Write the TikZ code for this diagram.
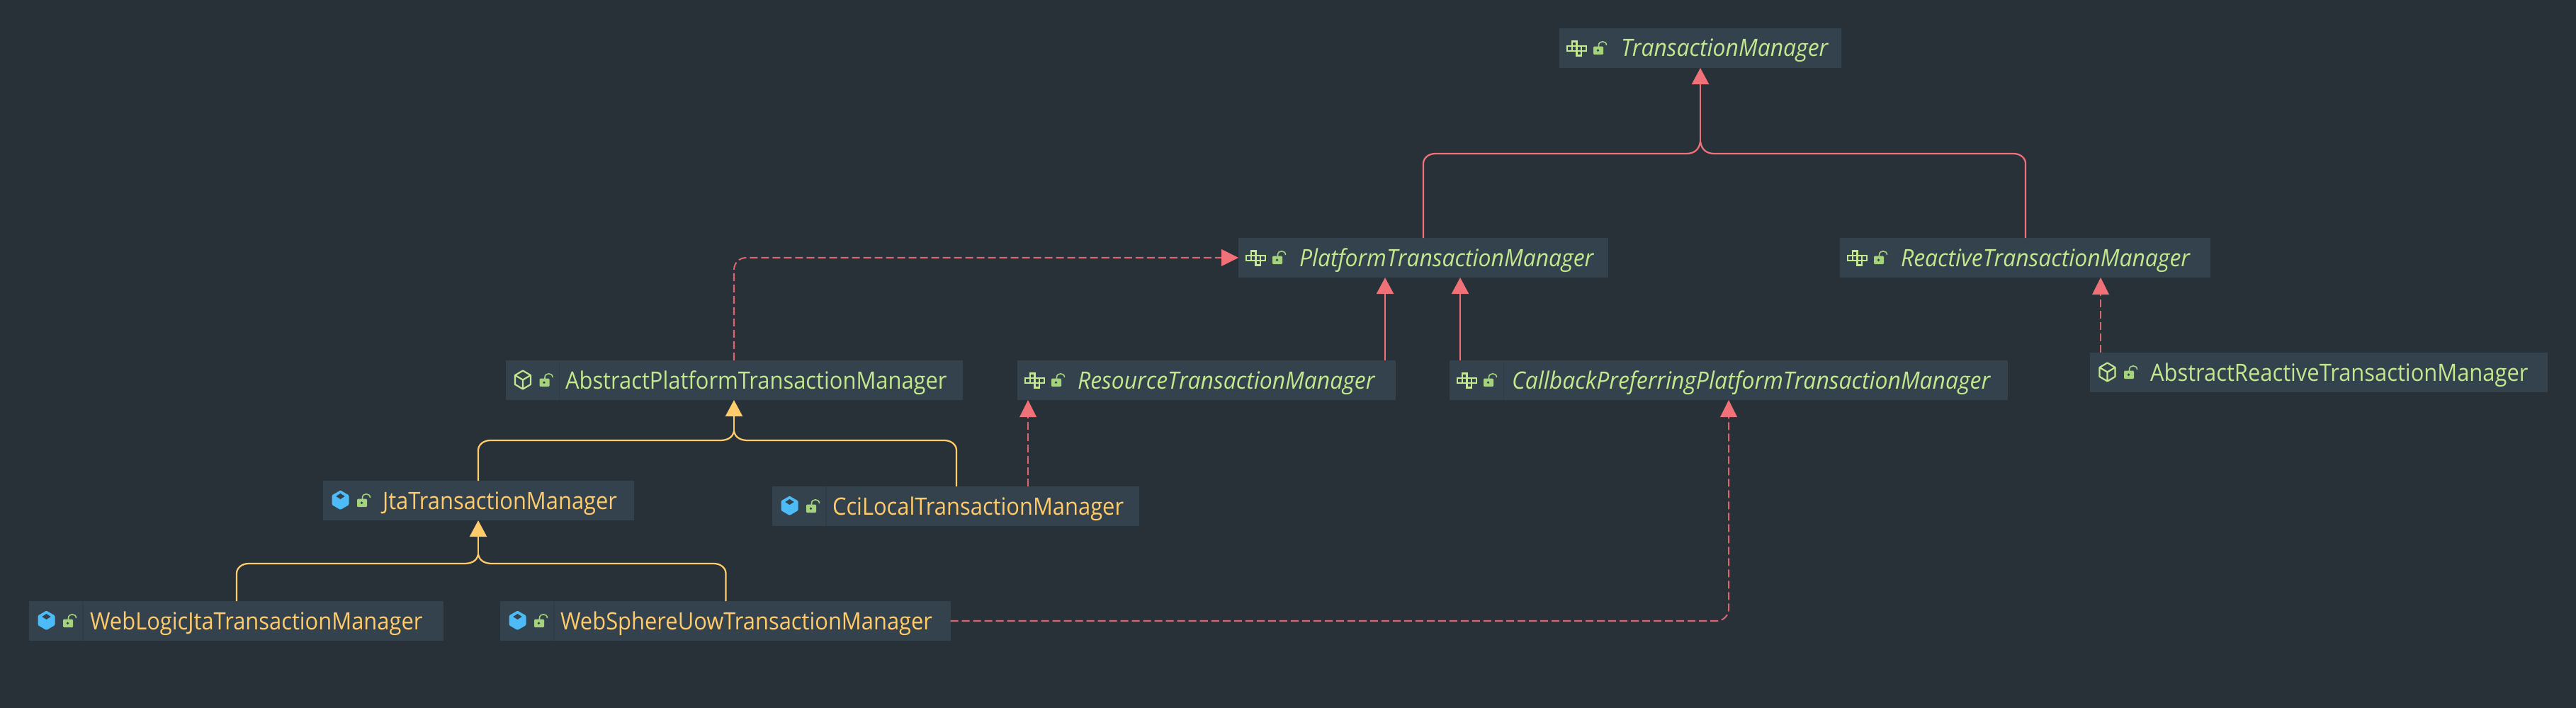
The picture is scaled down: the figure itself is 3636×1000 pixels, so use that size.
\documentclass[tikz,border=0pt]{standalone}
\usepackage{fontspec}
\setmainfont[FakeStretch=0.915,ItalicFeatures={FakeStretch=0.945}]{Open Sans}
\usetikzlibrary{arrows.meta}
\definecolor{bgc}{HTML}{283138}
\definecolor{boxc}{HTML}{33424C}
\definecolor{divc}{HTML}{2F3C45}
\definecolor{redc}{HTML}{F07178}
\definecolor{dashc}{HTML}{DC6670}
\definecolor{yelc}{HTML}{FFCB6B}
\definecolor{grnc}{HTML}{C3E88D}
\definecolor{lockc}{HTML}{A5D37C}
\definecolor{bluec}{HTML}{4DBBF7}
\tikzset{
  umlbox/.style={fill=boxc,draw=none,inner sep=0pt,outer sep=0pt,anchor=north west},
  lbl/.style={inner sep=0pt,outer sep=0pt,anchor=base west,font=\fontsize{9.6pt}{11pt}\selectfont},
  iface/.style={lbl,text=grnc,font=\fontsize{9.6pt}{11pt}\selectfont\itshape},
  absc/.style={lbl,text=grnc},
  conc/.style={lbl,text=yelc},
  tipa/.style={-{Triangle[width=.24cm,length=.23cm]}},
  solidred/.style={draw=redc,line width=.64pt},
  dashred/.style={draw=dashc,line width=.58pt,dash pattern=on .11cm off .05cm},
  solidyel/.style={draw=yelc,line width=.64pt},
  bendy/.style={rounded corners=.17cm},
}
% box: name, left, top, right, text start, label style, text
\newcommand\bx[7]{%
  \pgfmathsetmacro\bw{(#4-#2)*0.01}%
  \node[umlbox,minimum width=\bw cm,minimum height=.56cm] (#1) at (#2,#3) {};
  \pgfmathsetmacro\by{#3+40}%
  \node[#6] (#1-t) at (#5,\by) {#7};
}
\newcommand\dv[2]{\pgfmathsetmacro\dx{#1+76}\pgfmathsetmacro\dy{#2+56}\draw[divc,line width=.3pt] (\dx,#2) -- (\dx,\dy);}
\newcommand\lockicon{%
  \fill[lockc,rounded corners=.012cm] (48,25.7) rectangle (62,37);
  \fill[boxc] (54.5,31.2) circle (1.9);
  \draw[lockc,line width=.45pt] (55.5,26) -- (55.5,24) .. controls (55.5,17) and (66.5,17) .. (66.5,24);
}
\newcommand\ifaceicon[2]{\begin{scope}[shift={(#1,#2)}]
  \foreach \cx/\cy in {17.75/18.5,11/25.2,17.75/25.2,24.5/25.2,31.25/25.2,24.5/31.9}{\draw[grnc,line width=.66pt] (\cx,\cy) rectangle +(6.75,6.7);}
  \lockicon
\end{scope}}
\newcommand\cubeicon[2]{\begin{scope}[shift={(#1,#2)}]
  \fill[bluec,rounded corners=.012cm] (24.5,13.5) -- (36.5,20.5) -- (36.5,34) -- (24.5,41) -- (12.5,34) -- (12.5,20.5) -- cycle;
  \fill[boxc] (24.5,18) -- (30.7,22) -- (24.5,26) -- (18.3,22) -- cycle;
  \lockicon
\end{scope}}
\newcommand\abicon[2]{\begin{scope}[shift={(#1,#2)}]
  \draw[grnc,line width=.62pt,line join=round] (24.5,14.5) -- (35.5,21) -- (35.5,34) -- (24.5,40.5) -- (13.5,34) -- (13.5,21) -- cycle;
  \draw[grnc,line width=.62pt,line join=round] (13.5,21) -- (24.5,27.5) -- (35.5,21) (24.5,27.5) -- (24.5,40.5);
  \lockicon
\end{scope}}
% branch of a merged tree: style, port column, box, x of port, y of bus, x of join, y of join
\newcommand\branch[7]{%
  \pgfmathsetmacro\sg{(#6>#4)?1:-1}%
  \pgfmathsetmacro\xa{#4+\sg*17}\pgfmathsetmacro\ya{#5+14}%
  \pgfmathsetmacro\xb{#4}\pgfmathsetmacro\yb{#5+6}%
  \pgfmathsetmacro\xc{#4+\sg*7.5}%
  \pgfmathsetmacro\xd{#6-\sg*20}%
  \pgfmathsetmacro\xe{#6-\sg*10}\pgfmathsetmacro\xf{#6-\sg*2}\pgfmathsetmacro\yf{#7+(#5-#7)*.75}%
  \draw[#1] (#2 |- #3.north) -- (\xb,\ya) .. controls (\xb,\yb) and (\xc,#5) .. (\xa,#5) -- (\xd,#5) .. controls (\xe,#5) and (\xf,\yf) .. (#6,#7);%
}
\begin{document}
\begin{tikzpicture}[x=.01cm,y=-.01cm]
\useasboundingbox (0,0) rectangle (3636,1000);
\fill[bgc] (0,0) rectangle (3636,1000);
% boxes
\bx{tm}{2201}{40}{2599}{2288}{iface}{TransactionManager}
\bx{pm}{1748}{336}{2270}{1834}{iface}{PlatformTransactionManager}
\bx{rm}{2597}{336}{3120}{2683}{iface}{ReactiveTransactionManager}
\bx{apm}{713.5}{509}{1358.5}{798}{absc}{AbstractPlatformTransactionManager}
\bx{res}{1436}{509}{1970}{1521}{iface}{ResourceTransactionManager}
\bx{cb}{2046}{509}{2834}{2134}{iface}{CallbackPreferringPlatformTransactionManager}
\bx{arm}{2950}{498}{3596}{3035}{absc}{AbstractReactiveTransactionManager}
\bx{jta}{456}{679}{895}{540}{conc}{JtaTransactionManager}
\bx{cci}{1090}{687}{1608}{1175}{conc}{CciLocalTransactionManager}
\bx{wl}{41}{849}{626}{127}{conc}{WebLogicJtaTransactionManager}
\bx{ws}{706}{849}{1341.5}{791}{conc}{WebSphereUowTransactionManager}
\dv{713.5}{509}\dv{2046}{509}\dv{1090}{687}\dv{41}{849}\dv{706}{849}
% icons
\ifaceicon{2201}{40}\ifaceicon{1748}{336}\ifaceicon{2597}{336}\ifaceicon{1436}{509}\ifaceicon{2046}{509}
\abicon{713.5}{509}\abicon{2950}{498}
\cubeicon{456}{679}\cubeicon{1090}{687}\cubeicon{41}{849}\cubeicon{706}{849}
% port columns and rows
\coordinate (xtm) at (2400,0);
\coordinate (xpmup) at (2009,0);
\coordinate (xrmup) at (2859,0);
\coordinate (yjoina) at (0,200);
\coordinate (xpml) at (1955,0);
\coordinate (xpmr) at (2061,0);
\coordinate (xapm) at (1036,0);
\coordinate (ydep) at (0,364);
\coordinate (xjtaup) at (675,0);
\coordinate (xcciup) at (1350,0);
\coordinate (yjoinb) at (0,609);
\coordinate (xjta) at (675,0);
\coordinate (xwl) at (334,0);
\coordinate (xws) at (1024.5,0);
\coordinate (yjoinc) at (0,783);
\coordinate (xres) at (1451,0);
\coordinate (xcb) at (2440,0);
\coordinate (xarm) at (2965,0);
\coordinate (ydepb) at (0,877);
% red tree
\draw[solidred,tipa] (xtm |- yjoina) -- (xtm |- tm.south);
\branch{solidred}{xpmup}{pm}{2009}{217}{2400}{200}
\branch{solidred}{xrmup}{rm}{2859}{217}{2400}{200}
\draw[solidred,tipa] (xpml |- res.north) -- (xpml |- pm.south);
\draw[solidred,tipa] (xpmr |- cb.north) -- (xpmr |- pm.south);
% dashed
\draw[dashred,bendy] (xapm |- apm.north) -- (xapm |- ydep) -- (1730,364);
\path[fill=redc] (pm.west |- ydep) -- (1724,352) -- (1724,376) -- cycle;
\draw[dashred] (xres |- cci.north) -- (1451,589);
\path[fill=redc] (xres |- res.south) -- (1439,589) -- (1463,589) -- cycle;
\draw[dashred] (xarm |- arm.north) -- (2965,416);
\path[fill=redc] (xarm |- rm.south) -- (2953,416) -- (2977,416) -- cycle;
\draw[dashred,bendy] (ws.east |- ydepb) -- (xcb |- ydepb) -- (2440,589);
\path[fill=redc] (xcb |- cb.south) -- (2428,589) -- (2452,589) -- cycle;
% yellow trees
\draw[solidyel,tipa] (xapm |- yjoinb) -- (xapm |- apm.south);
\branch{solidyel}{xjtaup}{jta}{675}{622}{1036}{609}
\branch{solidyel}{xcciup}{cci}{1350}{622}{1036}{609}
\draw[solidyel,tipa] (xjta |- yjoinc) -- (xjta |- jta.south);
\branch{solidyel}{xwl}{wl}{334}{796}{675}{783}
\branch{solidyel}{xws}{ws}{1024.5}{796}{675}{783}
\end{tikzpicture}
\end{document}
